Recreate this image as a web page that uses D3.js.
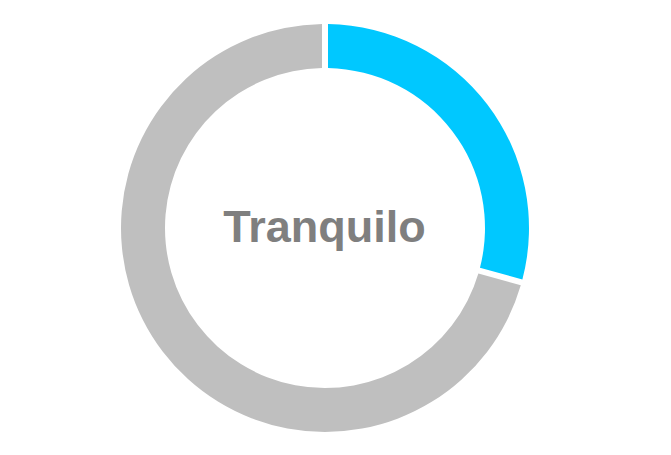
<!DOCTYPE html>
<html><head><meta charset="utf-8">
<script src="https://cdn.jsdelivr.net/npm/d3@7"></script>
<style>html,body{margin:0;padding:0;background:#fff;}</style>
</head><body>
<svg id="chart" width="671" height="455"></svg>
<script>
const categories = ["Tranquilo", "Resto"];
const values = [29.3, 70.7];
const colors = ["#00C8FF", "#BFBFBF"];
const centerLabel = "Tranquilo";

const W = 671, H = 455;
const cx = 325, cy = 228, outerR = 204, innerR = 160;
const svg = d3.select("#chart");
const g = svg.append("g").attr("transform", `translate(${cx},${cy})`);

const pie = d3.pie().sort(null).value(d => d.value);
const arc = d3.arc().innerRadius(innerR).outerRadius(outerR)
  .padAngle(6 / outerR).padRadius(outerR);

const data = categories.map((c, i) => ({name: c, value: values[i], color: colors[i]}));
g.selectAll("path").data(pie(data)).join("path")
  .attr("d", arc).attr("fill", d => d.data.color);

g.append("text").attr("x", -0.5).attr("y", 13.5)
  .attr("text-anchor", "middle")
  .attr("font-family", "Liberation Sans, Arial, sans-serif")
  .attr("font-weight", "bold").attr("font-size", "45px")
  .attr("fill", "#7F7F7F").text(centerLabel);
</script>
</body></html>
